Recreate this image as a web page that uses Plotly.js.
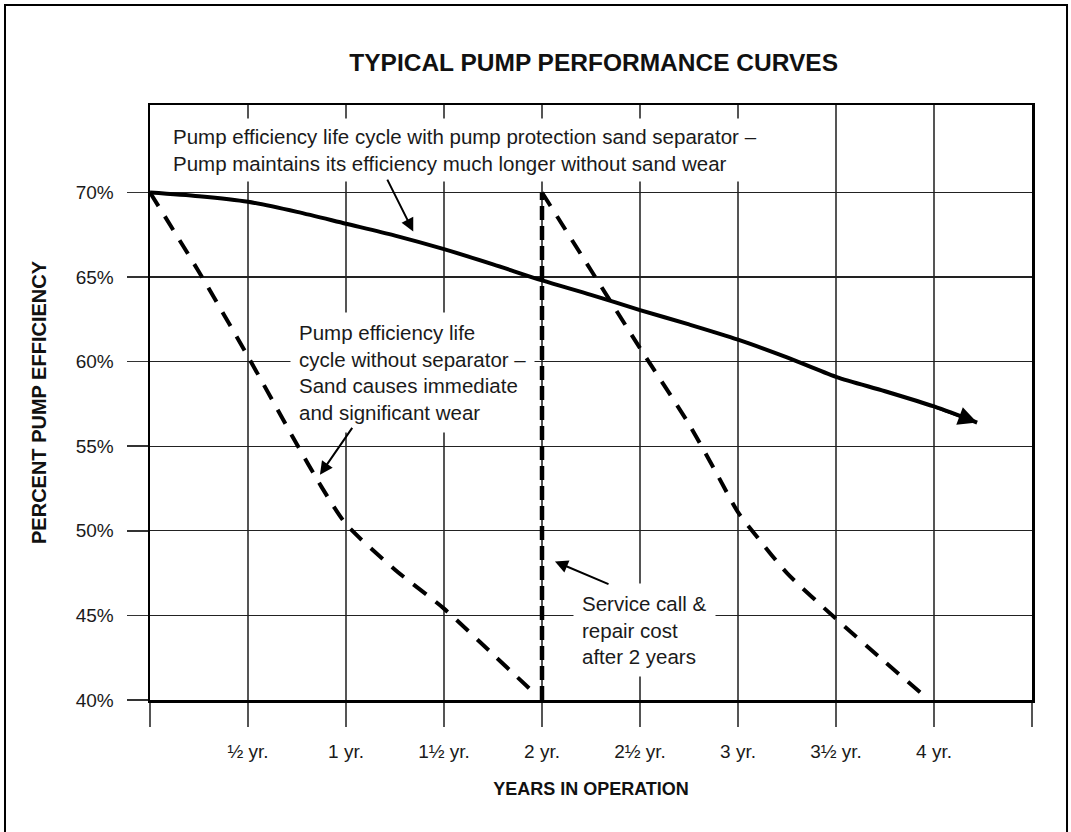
<!DOCTYPE html>
<html>
<head>
<meta charset="utf-8">
<script src="https://cdn.plot.ly/plotly-3.0.1.min.js"></script>
<style>
  html, body { margin: 0; padding: 0; background: #fff; }
  #chart { width: 1071px; height: 832px; }
</style>
</head>
<body>
<div id="chart"></div>
<script>
// ---- Data ----
const yearTickVals = [0, 0.5, 1, 1.5, 2, 2.5, 3, 3.5, 4, 4.5];
const yearTickText = ['', '½ yr.', '1 yr.', '1½ yr.', '2 yr.', '2½ yr.', '3 yr.', '3½ yr.', '4 yr.', ''];
const effTickVals = [40, 45, 50, 55, 60, 65, 70];
const effTickText = ['40%', '45%', '50%', '55%', '60%', '65%', '70%'];

// Efficiency with pump protection sand separator (solid)
const withSepYears = [0, 0.25, 0.5, 0.75, 1, 1.25, 1.5, 1.75, 2, 2.25, 2.5, 2.75, 3, 3.25, 3.5, 3.75, 4, 4.22];
const withSepEff   = [70, 69.78, 69.45, 68.85, 68.15, 67.45, 66.65, 65.75, 64.8, 63.95, 63.05, 62.2, 61.3, 60.25, 59.1, 58.25, 57.35, 56.4];

// Efficiency without separator, first cycle (dashed)
const noSepYears1 = [0, 0.25, 0.5, 0.75, 0.875, 1, 1.25, 1.5, 1.75, 1.97];
const noSepEff1   = [70, 65.3, 60.3, 55.1, 52.6, 50.4, 47.7, 45.4, 42.7, 40.3];

// Efficiency without separator, second cycle after repair (dashed)
const noSepYears2 = [2, 2.25, 2.5, 2.75, 2.9, 3, 3.1, 3.25, 3.5, 3.75, 3.93];
const noSepEff2   = [70, 65.4, 60.8, 56.3, 53.2, 51.1, 49.6, 47.5, 44.8, 42.25, 40.45];

// Service call & repair at 2 years
const repairYears = [2, 2];
const repairEff   = [40, 70];

// ---- Traces ----
const traces = [
  {
    x: noSepYears1, y: noSepEff1, type: 'scatter', mode: 'lines',
    line: { color: '#000', width: 4, dash: '16px,12px', shape: 'spline', smoothing: 0.7 },
    name: 'Without separator', hoverinfo: 'x+y'
  },
  {
    x: noSepYears2, y: noSepEff2, type: 'scatter', mode: 'lines',
    line: { color: '#000', width: 4, dash: '16px,12px', shape: 'spline', smoothing: 0.7 },
    name: 'Without separator (after repair)', hoverinfo: 'x+y'
  },
  {
    x: repairYears, y: repairEff, type: 'scatter', mode: 'lines',
    line: { color: '#000', width: 4.5, dash: '14px,6px' },
    name: 'Service call', hoverinfo: 'x+y'
  },
  {
    x: withSepYears, y: withSepEff, type: 'scatter', mode: 'lines',
    line: { color: '#000', width: 4, shape: 'spline', smoothing: 0.8 },
    name: 'With separator', hoverinfo: 'x+y'
  }
];

const annFont = { family: 'Liberation Sans, Arial, sans-serif', size: 20.5, color: '#1a1a1a' };
const nSep = withSepYears.length;

const layout = {
  width: 1071, height: 832,
  margin: { l: 150, r: 39, t: 105, b: 132, pad: 0 },
  paper_bgcolor: '#fff', plot_bgcolor: '#fff',
  showlegend: false,
  font: { family: 'Liberation Sans, Arial, sans-serif', color: '#1a1a1a' },
  title: {
    text: '<b>TYPICAL PUMP PERFORMANCE CURVES</b>',
    font: { family: 'Liberation Sans, Arial, sans-serif', size: 24.5, color: '#111' },
    x: 0.503, xref: 'paper', xanchor: 'center',
    y: 1 - 62 / 832, yref: 'container', yanchor: 'middle'
  },
  xaxis: {
    range: [0, 4.5], fixedrange: true,
    tickmode: 'array', tickvals: yearTickVals, ticktext: yearTickText,
    ticks: 'outside', ticklen: 24, tickwidth: 1.5, tickcolor: '#555',
    ticklabelstandoff: 9,
    tickfont: { size: 19, color: '#1a1a1a' },
    showgrid: true, gridcolor: '#555', gridwidth: 1.5,
    showline: true, linecolor: '#000', linewidth: 2.5, mirror: true,
    zeroline: false,
    title: { text: '<b>YEARS IN OPERATION</b>', font: { size: 18, color: '#111' }, standoff: 21 }
  },
  yaxis: {
    range: [40, 75.17], fixedrange: true,
    tickmode: 'array', tickvals: effTickVals, ticktext: effTickText,
    ticks: 'outside', ticklen: 21, tickwidth: 1.5, tickcolor: '#333',
    ticklabelstandoff: 9,
    tickfont: { size: 19, color: '#1a1a1a' },
    showgrid: true, gridcolor: '#222', gridwidth: 1.3,
    showline: true, linecolor: '#000', linewidth: 2.5, mirror: true,
    zeroline: false,
    title: { text: '<b>PERCENT PUMP EFFICIENCY</b>', font: { size: 20, color: '#111' }, standoff: 24 }
  },
  shapes: [
    { type: 'rect', xref: 'paper', yref: 'paper', x0: -0.1644, x1: 1.0397, y0: -0.25, y1: 1.168,
      line: { color: '#000', width: 2 }, fillcolor: 'rgba(0,0,0,0)', layer: 'below' }
  ],
  annotations: [
    {
      text: 'Pump efficiency life cycle with pump protection sand separator –<br>Pump maintains its efficiency much longer without sand wear',
      xref: 'x', yref: 'y', x: 0.083, y: 72.52, xanchor: 'left', yanchor: 'middle', align: 'left',
      showarrow: false, bgcolor: '#fff', borderpad: 6, font: annFont
    },
    {
      text: '', xref: 'x', yref: 'y', x: 1.343, y: 67.7, axref: 'x', ayref: 'y', ax: 1.207, ay: 70.85,
      showarrow: true, arrowhead: 2, arrowsize: 1.3, arrowwidth: 2, arrowcolor: '#000'
    },
    {
      text: 'Pump efficiency life<br>cycle without separator –<br>Sand causes immediate<br>and significant wear',
      xref: 'x', yref: 'y', x: 0.715, y: 59.37, xanchor: 'left', yanchor: 'middle', align: 'left',
      showarrow: false, bgcolor: '#fff', borderpad: 8, font: annFont
    },
    {
      text: '', xref: 'x', yref: 'y', x: 0.867, y: 53.32, axref: 'x', ayref: 'y', ax: 1.037, ay: 56.17,
      showarrow: true, arrowhead: 2, arrowsize: 1.3, arrowwidth: 2, arrowcolor: '#000'
    },
    {
      text: 'Service call &<br>repair cost<br>after 2 years',
      xref: 'x', yref: 'y', x: 2.156, y: 44.15, xanchor: 'left', yanchor: 'middle', align: 'left',
      showarrow: false, bgcolor: '#fff', borderpad: 8, font: annFont
    },
    {
      text: '', xref: 'x', yref: 'y', x: 2.066, y: 48.19, axref: 'x', ayref: 'y', ax: 2.347, ay: 46.81,
      showarrow: true, arrowhead: 2, arrowsize: 1.3, arrowwidth: 2, arrowcolor: '#000'
    },
    {
      // arrowhead at the end of the "with separator" curve
      text: '', xref: 'x', yref: 'y',
      x: withSepYears[nSep - 1], y: withSepEff[nSep - 1],
      axref: 'x', ayref: 'y', ax: withSepYears[nSep - 2], ay: withSepEff[nSep - 2],
      showarrow: true, arrowhead: 2, arrowsize: 1.25, arrowwidth: 3, arrowcolor: '#000', standoff: 0
    }
  ]
};

Plotly.newPlot('chart', traces, layout, { displayModeBar: false, staticPlot: true });
</script>
</body>
</html>
